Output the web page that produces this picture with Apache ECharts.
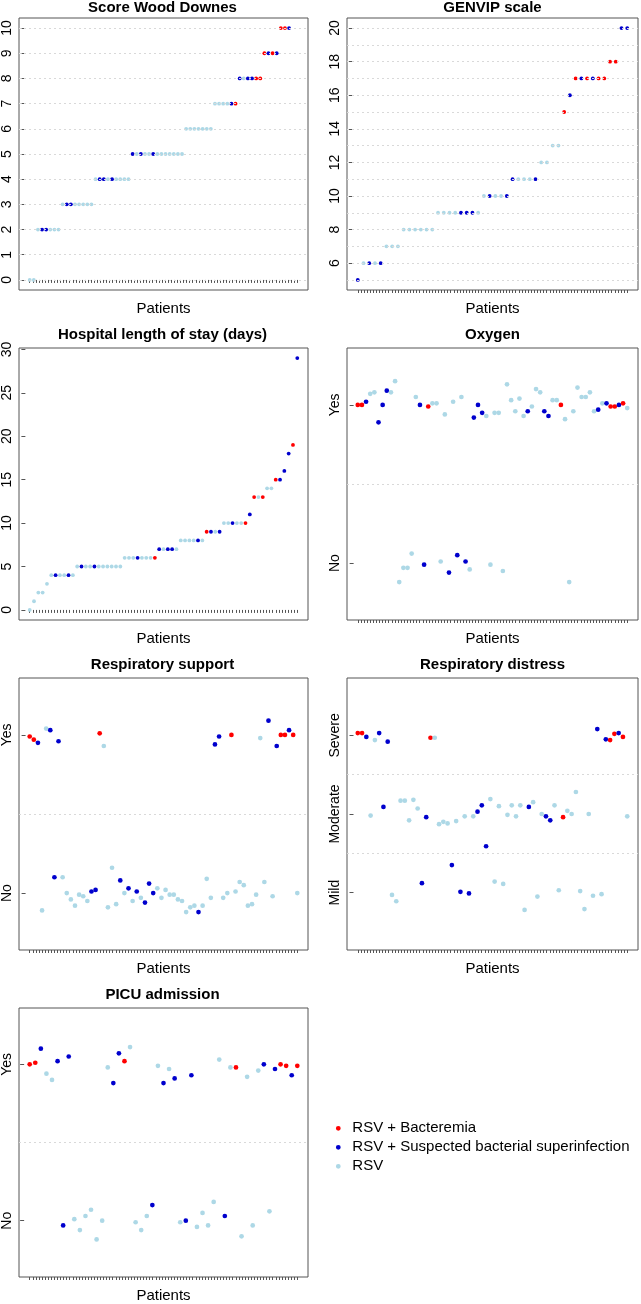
<!DOCTYPE html>
<html><head><meta charset="utf-8">
<script src="https://cdn.jsdelivr.net/npm/echarts@6/dist/echarts.min.js"></script>
<style>html,body{margin:0;padding:0;background:#fff}#c{width:641px;height:1304px}</style>
</head><body><div id="c"></div>
<script>
// group codes: r = RSV + Bacteremia, b = RSV + Suspected bacterial superinfection, l = RSV
const legendNames = ['RSV + Bacteremia', 'RSV + Suspected bacterial superinfection', 'RSV'];
const groupCodes = ['r', 'b', 'l'];
const groupColors = ['#ff0000', '#0000cd', '#add8e6'];

// Score Wood Downes (66 patients, last 2 missing)
const woodDownesValues = [0,0, 2,2,2,2,2,2, 3,3,3,3,3,3,3,3, 4,4,4,4,4,4,4,4,4,
  5,5,5,5,5,5,5,5,5,5,5,5,5, 6,6,6,6,6,6,6, 7,7,7,7,7,7, 8,8,8,8,8,8, 9,9,9,9, 10,10,10];
const woodDownesGroups = 'll' + 'lbblll' + 'lbblllll' + 'lbblbllll' + 'blbllblllllll' + 'lllllll' + 'llllbr' + 'blbbrr' + 'rbrb' + 'rrb';
const woodDownesPatients = 66;
const woodDownesTicks = [0,1,2,3,4,5,6,7,8,9,10];
const woodDownesGrid = [0,1,2,3,4,5,6,7,8,9,10];

// GENVIP scale
const genvipValues = [5, 6,6,6,6, 7,7,7, 8,8,8,8,8,8, 9,9,9,9,9,9,9,9, 10,10,10,10,10, 11,11,11,11,11,
  12,12, 13,13, 15, 16, 17,17,17,17,17,17, 18,18, 20,20];
const genvipGroups = 'b' + 'lblb' + 'lll' + 'llllll' + 'llllbbbl' + 'lbllb' + 'blllb' + 'll' + 'll' + 'r' + 'b' + 'rbrbrr' + 'rr' + 'bb';
const genvipPatients = 48;
const genvipTicks = [6,8,10,12,14,16,18,20];
const genvipGrid = [5,6,7,8,9,10,11,12,13,14,15,16,17,18,19,20];

// Hospital length of stay (days)
const stayValues = [0, 1, 2,2, 3, 4,4,4,4,4,4, 5,5,5,5,5,5,5,5,5,5,5, 6,6,6,6,6,6,6,6, 7,7,7,7,7,
  8,8,8,8,8,8, 9,9,9,9, 10,10,10,10,10,10, 11, 13,13,13, 14,14, 15,15, 16, 18, 19, 29];
const stayGroups = 'l' + 'l' + 'll' + 'l' + 'lbllbl' + 'lbllbllllll' + 'lllblllr' + 'blbbl' + 'llllbl' + 'rblb' + 'llbllr' + 'b' + 'rlr' + 'll' + 'rb' + 'b' + 'b' + 'r' + 'b';
const stayPatients = 63;
const stayTicks = [0,5,10,15,20,25,30];

// Binary / ordinal outcomes (jittered values: No = 1, Yes = 2; Mild = 1, Moderate = 2, Severe = 3)
const binaryTicks = [1, 2];
const binaryNames = ['No', 'Yes'];
const distressTicks = [1, 2, 3];
const distressNames = ['Mild', 'Moderate', 'Severe'];

const oxygenValues = [2.00,2.00,2.02,2.07,2.08,1.89,2.00,2.09,2.08,2.15,
  0.88,0.97,0.97,1.06,2.05,2.00,0.99,1.99,2.01,2.01,
  1.01,1.94,0.94,2.02,1.05,2.05,1.01,0.96,1.92,2.00,
  1.95,1.93,0.99,1.95,1.95,0.95,2.13,2.03,1.96,2.04,
  1.93,1.96,1.99,2.10,2.08,1.96,1.93,2.03,2.03,2.00,
  1.91,0.88,1.96,2.11,2.05,2.05,2.08,1.96,1.97,2.01,
  2.01,1.99,1.99,2.00,2.01,1.98];
const oxygenGroups = 'rrbllbbbll' + 'lllllbbrll' + 'llblblblbb' + 'blllllllll' + 'lblllbbllr' + 'llllllllbl' + 'brrbrl';

const supportValues = [1.99,1.97,1.95,0.89,2.04,2.03,1.10,1.96,1.10,1.00,
  0.96,0.92,0.99,0.98,0.95,1.01,1.02,2.01,1.93,0.91,
  1.16,0.93,1.08,1.00,1.03,0.95,1.01,0.97,0.94,1.06,
  1.00,1.03,0.97,1.02,0.99,0.99,0.96,0.95,0.88,0.91,
  0.92,0.88,0.92,1.09,0.97,1.94,1.99,0.97,1.00,2.00,
  1.01,1.07,1.05,0.92,0.93,0.99,1.98,1.07,2.09,0.98,
  1.93,2.00,2.00,2.03,2.00,1.00];
const supportGroups = 'rrbllbbbll' + 'lllllbbrll' + 'llblblblbb' + 'blllllllll' + 'lblllbbllr' + 'llllllllbl' + 'brrbrl';

const distressValues = [3.03,3.03,2.98,1.98,2.94,3.03,2.09,2.92,0.97,0.89,
  2.17,2.17,1.92,2.18,2.07,1.12,1.96,2.97,2.97,1.87,
  1.90,1.88,1.35,1.91,1.01,1.97,0.99,1.97,2.03,2.11,
  1.59,2.19,1.14,2.10,1.11,1.99,2.11,1.97,2.11,0.78,
  2.09,2.15,0.95,2.00,1.97,1.92,2.11,1.03,1.96,2.04,
  2.00,2.28,1.02,0.79,2.00,0.96,3.08,0.98,2.95,2.94,
  3.02,3.03,2.98,1.97];
const distressGroups = 'rrbllbbbll' + 'lllllbbrll' + 'llblblblbb' + 'blllllllll' + 'blllbbllrl' + 'llllllblbr' + 'rbrl';

const picuValues = [2.00,2.01,2.10,1.94,1.90,2.02,0.97,2.05,1.01,0.94,
  1.03,1.07,0.88,1.00,1.98,1.88,2.07,2.02,2.11,0.99,
  0.94,1.03,1.10,1.99,1.88,1.97,1.91,0.99,1.00,1.93,
  0.96,1.05,0.97,1.12,2.03,1.03,1.98,1.98,0.90,1.92,
  0.97,1.96,2.00,1.06,1.97,2.00,1.99,1.93,1.99];
const picuGroups = 'rrbllbbbll' + 'lllllbbrll' + 'llblblblbb' + 'lllllblrll' + 'llblbrrbr';

// ---------- layout ----------
const FONT = "'Liberation Sans', Arial, Helvetica, sans-serif";
const colLeft = [17, 347];
const rowTop = [18, 348, 678, 1008];
const titleY = [8, 335, 665, 995];
const boxW = 291, boxH = 272;
const AX = '#555';

const panels = [
  {title:'Score Wood Downes', values:woodDownesValues, groups:woodDownesGroups, n:woodDownesPatients, ymin:-0.4, ymax:10.4, ticks:woodDownesTicks, grid:woodDownesGrid, size:3.8},
  {title:'GENVIP scale', values:genvipValues, groups:genvipGroups, n:genvipPatients, ymin:4.4, ymax:20.6, ticks:genvipTicks, grid:genvipGrid, size:3.8},
  {title:'Hospital length of stay (days)', values:stayValues, groups:stayGroups, n:stayPatients, ymin:-1.16, ymax:30.16, ticks:stayTicks, grid:[], size:3.8},
  {title:'Oxygen', values:oxygenValues, groups:oxygenGroups, n:oxygenValues.length, ymin:0.64, ymax:2.36, ticks:binaryTicks, names:binaryNames, grid:[1.5], size:4.7},
  {title:'Respiratory support', values:supportValues, groups:supportGroups, n:supportValues.length, ymin:0.64, ymax:2.36, ticks:binaryTicks, names:binaryNames, grid:[1.5], size:4.7},
  {title:'Respiratory distress', values:distressValues, groups:distressGroups, n:distressValues.length, ymin:0.27, ymax:3.73, ticks:distressTicks, names:distressNames, grid:[1.5, 2.5], size:4.7},
  {title:'PICU admission', values:picuValues, groups:picuGroups, n:picuValues.length, ymin:0.64, ymax:2.36, ticks:binaryTicks, names:binaryNames, grid:[1.5], size:4.7}
];

const grids = [], xAxes = [], yAxes = [], series = [], graphics = [];
const NTICK = 88;
panels.forEach((p, i) => {
  const col = i % 2, row = Math.floor(i / 2);
  const left = colLeft[col], top = rowTop[row];
  grids.push({left:left, top:top, width:boxW, height:boxH, show:true, borderColor:AX, borderWidth:1, backgroundColor:'transparent'});
  const ext = 0.04 * (p.n - 1);
  const xticks = [];
  for (let k = 0; k < NTICK; k++) xticks.push(1 + k * (p.n - 1) / (NTICK - 1));
  xAxes.push({type:'value', gridIndex:i, min:1 - ext, max:p.n + ext,
    name:'Patients', nameLocation:'middle', nameGap:11,
    nameTextStyle:{fontSize:15, color:'#000', fontFamily:FONT},
    axisLine:{show:false}, splitLine:{show:false},
    axisTick:{show:true, length:3, customValues:xticks, lineStyle:{color:AX}},
    axisLabel:{show:false}});
  yAxes.push({type:'value', gridIndex:i, min:p.ymin, max:p.ymax,
    axisLine:{show:false}, splitLine:{show:false},
    axisTick:{show:true, length:4, customValues:p.ticks, lineStyle:{color:AX}},
    axisLabel:{show:true, customValues:p.ticks, rotate:90, margin:5, fontSize:14, color:'#000', fontFamily:FONT,
      formatter: v => p.names ? p.names[p.ticks.indexOf(v)] : String(v)}});
  series.push({type:'line', xAxisIndex:i, yAxisIndex:i, data:[], z:1, silent:true,
    markLine:{silent:true, symbol:['none','none'], label:{show:false}, animation:false,
      lineStyle:{color:'#d9d9d9', type:[2,3], width:1},
      data:p.grid.map(v => ({yAxis:v}))}});
  const pts = [];
  p.values.forEach((v, k) => {
    const g = groupCodes.indexOf(p.groups[k]);
    pts.push({value:[k + 1, v], itemStyle:{color:groupColors[g], opacity:1}});
  });
  series.push({type:'scatter', xAxisIndex:i, yAxisIndex:i, symbol:'circle', symbolSize:p.size, z:3, data:pts,
    itemStyle:{opacity:1, borderWidth:0}, animation:false, silent:true});
  graphics.push({type:'text', x:left + boxW / 2, y:titleY[row],
    style:{text:p.title, font:'bold 15px ' + FONT, fill:'#000', align:'center', verticalAlign:'middle'}});
});

// legend
const legendY = [1128.3, 1147.3, 1166.3];
legendNames.forEach((name, k) => {
  graphics.push({type:'circle', shape:{cx:338.3, cy:legendY[k], r:2.4}, style:{fill:groupColors[k]}});
  graphics.push({type:'text', x:352.3, y:legendY[k],
    style:{text:name, font:'15px ' + FONT, fill:'#000', align:'left', verticalAlign:'middle'}});
});

const chart = echarts.init(document.getElementById('c'), null, {renderer:'canvas'});
chart.setOption({animation:false, backgroundColor:'#fff', grid:grids, xAxis:xAxes, yAxis:yAxes, series:series, graphic:graphics});
</script></body></html>
